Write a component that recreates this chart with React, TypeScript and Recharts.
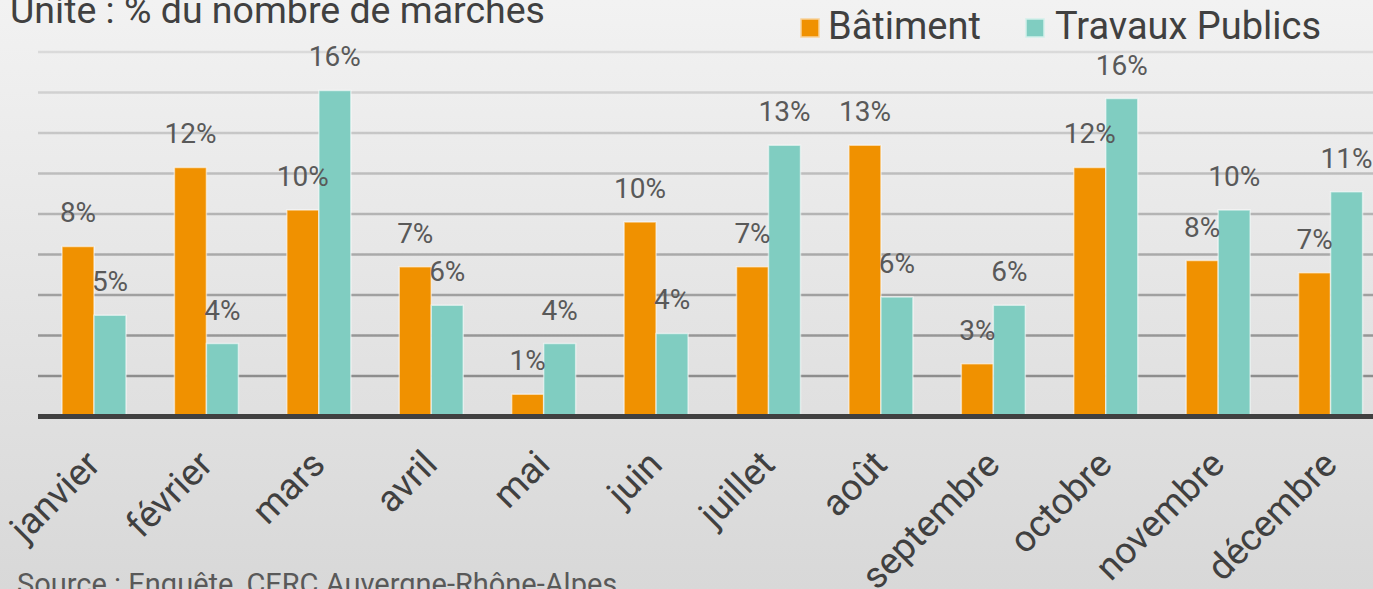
import React from "react";
import { Bar, BarChart, CartesianGrid, LabelList, Legend, XAxis, YAxis } from "recharts";

const MONTHS = [
  "janvier", "février", "mars", "avril", "mai", "juin",
  "juillet", "août", "septembre", "octobre", "novembre", "décembre",
];
const BATIMENT = [8.4, 12.3, 10.2, 7.4, 1.1, 9.6, 7.4, 13.4, 2.6, 12.3, 7.7, 7.1];
const TRAVAUX = [5.0, 3.6, 16.1, 5.5, 3.6, 4.1, 13.4, 5.9, 5.5, 15.7, 10.2, 11.1];
const Y_TICKS = [0, 2, 4, 6, 8, 10, 12, 14, 16, 18];

const ORANGE = "#f09100";
const TEAL = "#80cdc1";
const LABEL = "#595959";
const DARK = "#404040";

const data = MONTHS.map((m, i) => ({ month: m, bat: BATIMENT[i], tp: TRAVAUX[i] }));

const pct = (v: number) => `${Math.round(v)}%`;

function MonthTick({ x, y, payload }: { x?: number; y?: number; payload?: { value: string } }) {
  const ax = (x ?? 0) + 8;
  const ay = (y ?? 0) + 50;
  return (
    <text
      x={ax}
      y={ay}
      transform={`rotate(-45, ${ax}, ${ay})`}
      textAnchor="end"
      fontSize={37}
      fill={DARK}
    >
      {payload?.value}
    </text>
  );
}

// legend drawn in its own little svg so the swatches line up with the text
function SeriesLegend() {
  return (
    <svg width={560} height={50} style={{ display: "block" }}>
      <rect x={11} y={19} width={18} height={18} fill={ORANGE} stroke="#f8d29a" strokeWidth={1.5} />
      <text x={38} y={39} fontSize={38} fill={DARK}>Bâtiment</text>
      <rect x={236} y={19} width={18} height={18} fill={TEAL} stroke="#d2efea" strokeWidth={1.5} />
      <text x={265} y={39} fontSize={38} fill={DARK}>Travaux Publics</text>
    </svg>
  );
}

export default function App() {
  return (
    <div
      style={{
        position: "absolute",
        left: 0,
        top: 0,
        width: 1373,
        height: 589,
        overflow: "hidden",
        background: "linear-gradient(#f2f2f2, #d8d8d8)",
        fontFamily: "Roboto, sans-serif",
      }}
    >
      <BarChart
        width={1400}
        height={589}
        data={data}
        margin={{ top: 2, right: 13, bottom: 0, left: 38 }}
        barCategoryGap={24}
        barGap={0}
        style={{ fontFamily: "Roboto, sans-serif" }}
      >
        <CartesianGrid vertical={false} stroke="url(#gridFade)" strokeWidth={2.5} />
        <YAxis hide domain={[0, 18]} ticks={Y_TICKS} />
        <XAxis
          dataKey="month"
          interval={0}
          height={172.5}
          tickLine={false}
          tickSize={0}
          tickMargin={0}
          axisLine={{ stroke: DARK, strokeWidth: 5 }}
          tick={<MonthTick />}
        />
        <Legend
          verticalAlign="top"
          align="right"
          content={<SeriesLegend />}
          wrapperStyle={{ top: 0, left: 790, width: 560, height: 50 }}
        />
        <Bar dataKey="bat" name="Bâtiment" fill={ORANGE} stroke="rgba(255,255,255,0.55)" strokeWidth={1.5} barSize={32} isAnimationActive={false}>
          <LabelList dataKey="bat" position="top" offset={24} formatter={pct} fill={LABEL} fontSize={28} />
        </Bar>
        <Bar dataKey="tp" name="Travaux Publics" fill={TEAL} stroke="rgba(255,255,255,0.55)" strokeWidth={1.5} barSize={32} isAnimationActive={false}>
          <LabelList dataKey="tp" position="top" offset={24} formatter={pct} fill={LABEL} fontSize={28} />
        </Bar>
      </BarChart>
      <svg
        width={1373}
        height={589}
        style={{ position: "absolute", left: 0, top: 0, pointerEvents: "none" }}
      >
        <defs>
          <linearGradient id="gridFade" gradientUnits="userSpaceOnUse" x1={0} y1={52} x2={0} y2={380}>
            <stop offset="0" stopColor="#dadada" />
            <stop offset="1" stopColor="#8c8c8c" />
          </linearGradient>
        </defs>
        <text x={10} y={23} fontSize={37.5} fill={DARK}>Unité : % du nombre de marchés</text>
        <text x={17} y={594} fontSize={29} fill={LABEL}>Source : Enquête, CERC Auvergne-Rhône-Alpes</text>
      </svg>
    </div>
  );
}
